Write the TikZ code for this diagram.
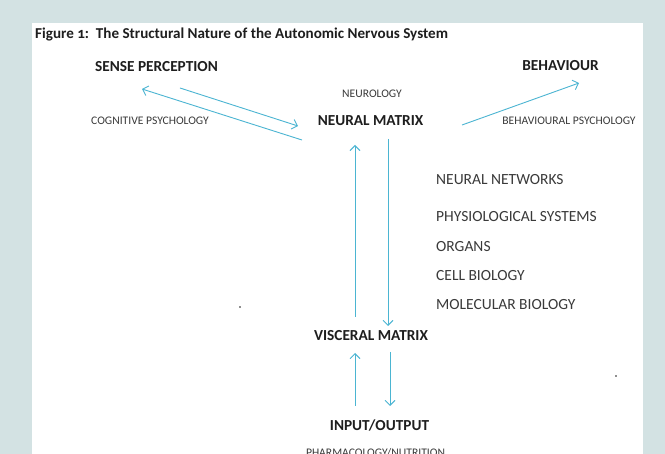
\documentclass[tikz,border=0pt]{standalone}
\usepackage{fontspec}
\setmainfont{Carlito}
\usetikzlibrary{arrows.meta}
\definecolor{bgcol}{HTML}{D3E2E3}
\definecolor{arrcol}{HTML}{4BB5D2}
\definecolor{txtcol}{HTML}{1E1E1E}
\definecolor{smallcol}{HTML}{3A3A3A}
\tikzset{
  bigl/.style={font=\bfseries\fontsize{15.3}{18}\selectfont, text=txtcol, inner sep=0pt},
  smalll/.style={font=\fontsize{11.6}{14}\selectfont, text=smallcol, inner sep=0pt},
  listl/.style={font=\fontsize{15.5}{18}\selectfont, text=smallcol, inner sep=0pt, anchor=west},
  arr/.style={draw=arrcol, line width=0.9pt, -{Straight Barb[length=5pt,width=10pt]}},
}
\begin{document}
\begin{tikzpicture}[x=1pt,y=-1pt]
\useasboundingbox (0,0) rectangle (665,454);
\clip (0,0) rectangle (665,454);
\fill[bgcol] (0,0) rectangle (665,454);
\fill[white] (32,23) rectangle (643,470);

\node[anchor=base west, inner sep=0pt, text=txtcol, font=\bfseries\fontsize{15.1}{18}\selectfont] (title) at (35,39)
  {Figure {\addfontfeatures{Numbers=OldStyle}1}:\ \ The Structural Nature of the Autonomic Nervous System};

\node[bigl] (sense) at (156.5,67) {SENSE PERCEPTION};
\node[bigl] (behav) at (560.5,66) {BEHAVIOUR};
\node[smalll] (neuro) at (372,93.5) {NEUROLOGY};
\node[bigl] (neural) at (370.5,121) {NEURAL MATRIX};
\node[smalll] (cogn) at (150,121) {COGNITIVE PSYCHOLOGY};
\node[smalll] (behpsy) at (569,121) {BEHAVIOURAL PSYCHOLOGY};

\node[listl] (nn) at (436,180) {NEURAL NETWORKS};
\node[listl] (phys) at (436,217) {PHYSIOLOGICAL SYSTEMS};
\node[listl] (org) at (436,247) {ORGANS};
\node[listl] (cell) at (436,276) {CELL BIOLOGY};
\node[listl] (mol) at (436,305) {MOLECULAR BIOLOGY};

\node[bigl] (visc) at (371,336) {VISCERAL MATRIX};
\node[bigl] (io) at (379.5,425) {INPUT/OUTPUT};
\node[smalll, anchor=base] (pharm) at (375.5,456.5) {PHARMACOLOGY/NUTRITION};

\fill[txtcol] (240,307) circle (0.8);
\fill[txtcol] (616,376) circle (0.8);

% arrow end points
\coordinate (a1) at (180,88);   \coordinate (a2) at (298,126);
\coordinate (b1) at (302,140);  \coordinate (b2) at (142,89);
\coordinate (c1) at (462,125);  \coordinate (c2) at (579,83);
\coordinate (d1) at (355,317);  \coordinate (d2) at (355,145);
\coordinate (e1) at (388,139);  \coordinate (e2) at (388,326);
\coordinate (f1) at (355,406);  \coordinate (f2) at (355,353);
\coordinate (g1) at (390,352);  \coordinate (g2) at (390,406);

\draw[arr] (a1) -- (a2);
\draw[arr] (b1) -- (b2);
\draw[arr] (c1) -- (c2);
\draw[arr] (d1) -- (d2);
\draw[arr] (e1) -- (e2);
\draw[arr] (f1) -- (f2);
\draw[arr] (g1) -- (g2);
\end{tikzpicture}
\end{document}
